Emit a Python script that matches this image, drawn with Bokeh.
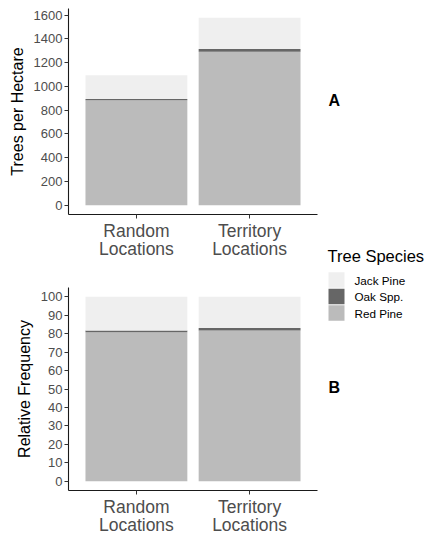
from bokeh.plotting import figure
from bokeh.models import ColumnDataSource, Range1d, FixedTicker
from bokeh.layouts import row, column
from bokeh.embed import file_html
from bokeh.resources import INLINE
from bokeh.core.properties import value

# ---------------- data ----------------
locations = ["Random\nLocations", "Territory\nLocations"]
stack_order = ["Red Pine", "Oak Spp.", "Jack Pine"]          # bottom -> top
legend_order = ["Jack Pine", "Oak Spp.", "Red Pine"]
species_colors = {"Jack Pine": "#efefef", "Oak Spp.": "#666666", "Red Pine": "#bbbbbb"}

tph_red = [883, 1290]
tph_oak = [10, 25]
tph_jack = [200, 261]

rel_red = [80.8, 81.7]
rel_oak = [0.9, 1.4]
rel_jack = [18.3, 16.9]

tph_ticks = list(range(0, 1601, 200))
rel_ticks = list(range(0, 101, 10))

FONT = "Liberation Sans"


def make_panel(red, oak, jack, ylabel, yticks, width, height, b_left, b_top, b_bottom, b_right):
    xs = [i + 1 for i in range(len(locations))]
    src = ColumnDataSource(dict(x=xs, **{"Red Pine": red, "Oak Spp.": oak, "Jack Pine": jack}))
    totals = [r + o + j for r, o, j in zip(red, oak, jack)]
    ymax = max(totals)
    pad = 0.05 * ymax
    p = figure(width=width, height=height, toolbar_location=None, output_backend="svg",
               x_range=Range1d(0.4, len(locations) + 0.6),
               y_range=Range1d(-pad, ymax + pad),
               min_border_left=b_left, min_border_top=b_top,
               min_border_bottom=b_bottom, min_border_right=b_right)
    p.vbar_stack(stack_order, x="x", width=0.9, source=src,
                 color=[species_colors[s] for s in stack_order], line_color=None)
    p.xgrid.visible = False
    p.ygrid.visible = False
    p.outline_line_color = None
    p.background_fill_color = "white"
    p.border_fill_color = "white"

    p.xaxis.ticker = FixedTicker(ticks=xs)
    p.xaxis.major_label_overrides = {x: lab for x, lab in zip(xs, locations)}
    p.yaxis.ticker = FixedTicker(ticks=yticks)
    p.yaxis.axis_label = ylabel
    for ax in (p.xaxis[0], p.yaxis[0]):
        ax.axis_line_color = "#1a1a1a"
        ax.axis_line_width = 1.1
        ax.major_tick_line_color = "#333333"
        ax.major_tick_out = 4
        ax.major_tick_in = 0
        ax.minor_tick_out = 0
        ax.minor_tick_in = 0
        ax.major_label_text_font = FONT
        ax.major_label_text_color = "#4d4d4d"
        ax.major_label_standoff = 2
        ax.axis_label_text_font = FONT
        ax.axis_label_text_font_style = "normal"
        ax.axis_label_text_color = "black"
        ax.axis_label_text_font_size = "16px"
        ax.axis_label_standoff = 5
    p.yaxis.major_label_text_font_size = "13px"
    p.xaxis.major_label_text_font_size = "17.5px"
    p.xaxis.major_label_text_line_height = 0.93
    return p


p1 = make_panel(tph_red, tph_oak, tph_jack, "Trees per Hectare", tph_ticks,
                width=322, height=262, b_left=68, b_top=8, b_bottom=45, b_right=5)
p2 = make_panel(rel_red, rel_oak, rel_jack, "Relative Frequency", rel_ticks,
                width=322, height=276, b_left=59, b_top=25, b_bottom=43, b_right=5)

# ---------------- legend / panel tags ----------------
LW, LH = 103, 538
pl = figure(width=LW, height=LH, toolbar_location=None, output_backend="svg",
            x_range=Range1d(0, LW), y_range=Range1d(LH, 0),
            x_axis_location=None, y_axis_location=None, min_border=0)
pl.xgrid.visible = False
pl.ygrid.visible = False
pl.outline_line_color = None
pl.border_fill_color = "white"

pl.text(x=[6, 6], y=[100, 387], text=["A", "B"], text_font=value(FONT),
        text_font_style="bold", text_font_size="16px", text_baseline="middle",
        text_color="black")
pl.text(x=[5], y=[255], text=["Tree Species"], text_font=value(FONT),
        text_font_size="16.5px", text_baseline="middle", text_color="black")

key_y0, key_step = 279.5, 16.5
key_src = ColumnDataSource(dict(
    x=[14] * len(legend_order),
    tx=[32] * len(legend_order),
    y=[key_y0 + i * key_step for i in range(len(legend_order))],
    color=[species_colors[s] for s in legend_order],
    label=legend_order,
))
pl.rect(x="x", y="y", width=16, height=15.5, color="color", line_color=None, source=key_src)
pl.text(x="tx", y="y", text="label", source=key_src, text_font=value(FONT),
        text_font_size="11.7px", text_baseline="middle", text_color="black")

layout = row(column(p1, p2), pl)
open("out.html", "w").write(file_html(layout, INLINE))
